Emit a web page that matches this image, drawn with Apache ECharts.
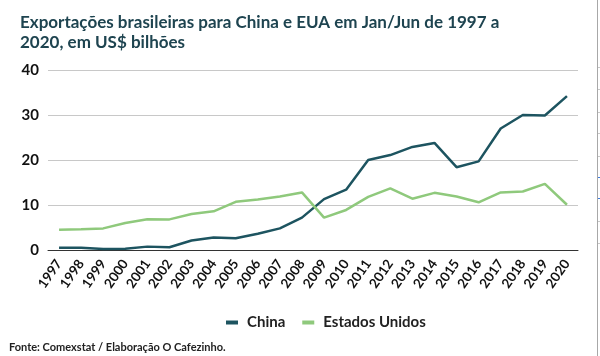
<!DOCTYPE html>
<html><head><meta charset="utf-8">
<script src="https://cdn.jsdelivr.net/npm/echarts@6/dist/echarts.min.js"></script>
<style>html,body{margin:0;padding:0;background:#fff}#c{width:600px;height:356px}</style>
</head><body><div id="c"></div>
<script>
var years = ['1997','1998','1999','2000','2001','2002','2003','2004','2005','2006','2007','2008','2009','2010','2011','2012','2013','2014','2015','2016','2017','2018','2019','2020'];
var china = [0.5,0.5,0.2,0.3,0.75,0.6,2.1,2.8,2.6,3.6,4.8,7.2,11.3,13.4,20.0,21.1,22.9,23.8,18.4,19.7,27.0,30.0,29.9,34.2];
var eua = [4.5,4.6,4.8,6.0,6.85,6.8,8.0,8.6,10.7,11.2,11.9,12.8,7.2,8.9,11.8,13.7,11.4,12.7,11.9,10.6,12.8,13.0,14.7,10.05];
var yTicks = [0,10,20,30,40];
var FONT = 'Lato';
var edgeTicks = [67,89,112,133,156,177,198,221,243];
var graphics = [
  {type:'text',left:9,top:342,style:{text:'Fonte: Comexstat / Elaboração O Cafezinho.',font:'bold 11px Lato',fill:'#222'}},
  {type:'line',shape:{x1:597.5,y1:0,x2:597.5,y2:356},style:{stroke:'#a8a8a8',lineWidth:1}}
];
edgeTicks.forEach(function(y,i){
  graphics.push({type:'line',shape:{x1:598,y1:y+0.5,x2:600,y2:y+0.5},style:{stroke:(i===5||i===6)?'#3b7be0':'#c8c8c8',lineWidth:1}});
});
var chart = echarts.init(document.getElementById('c'));
chart.setOption({
  animation:false,
  textStyle:{fontFamily:FONT},
  title:{text:'Exportações brasileiras para China e EUA em Jan/Jun de 1997 a\n2020, em US$ bilhões',left:15,top:8,
    textStyle:{fontFamily:FONT,fontSize:17,fontWeight:'bold',color:'#1e4450',lineHeight:20}},
  legend:{top:310,left:221,itemWidth:12,itemHeight:4,itemGap:17,icon:'rect',
    textStyle:{fontFamily:FONT,fontSize:15,fontWeight:'bold',color:'#222',padding:[0,0,0,4]},data:['China','Estados Unidos']},
  graphic:graphics,
  grid:{left:48,right:22,top:70,bottom:106,containLabel:false},
  xAxis:{type:'category',data:years,boundaryGap:true,
    axisLine:{lineStyle:{color:'#333',width:1}},axisTick:{show:false},
    axisLabel:{rotate:55,interval:0,fontFamily:FONT,fontSize:13.5,fontWeight:'bold',color:'#111',margin:11}},
  yAxis:{type:'value',min:0,max:40,interval:10,
    axisLine:{show:false},axisTick:{show:false},
    splitLine:{lineStyle:{color:'#c8c8c8',width:1}},
    axisLabel:{fontFamily:FONT,fontSize:15,fontWeight:'bold',color:'#111',margin:9,
      formatter:function(v){return yTicks.indexOf(v)>=0?String(v):'';}}},
  series:[
    {name:'China',type:'line',data:china,symbol:'none',lineStyle:{color:'#1d5460',width:2.5},itemStyle:{color:'#1d5460'}},
    {name:'Estados Unidos',type:'line',data:eua,symbol:'none',lineStyle:{color:'#8fc97c',width:2.5},itemStyle:{color:'#8fc97c'}}
  ]
});
</script></body></html>
